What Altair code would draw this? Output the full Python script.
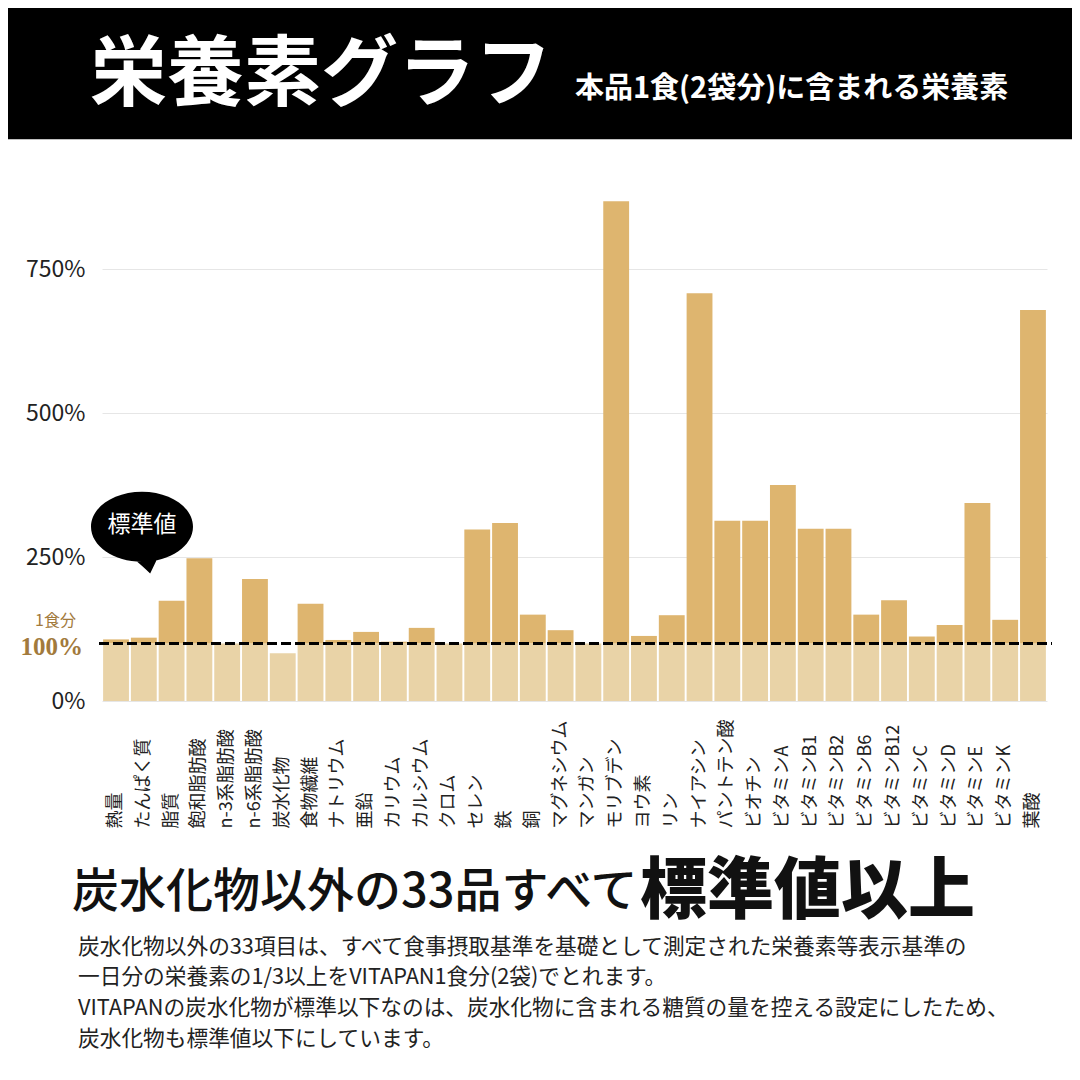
import altair as alt
import pandas as pd

# ---- data ----
nutrients = ["熱量", "たんぱく質", "脂質", "飽和脂肪酸", "n-3系脂肪酸", "n-6系脂肪酸",
             "炭水化物", "食物繊維", "ナトリウム", "亜鉛", "カリウム", "カルシウム", "クロム",
             "セレン", "鉄", "銅", "マグネシウム", "マンガン", "モリブデン", "ヨウ素", "リン",
             "ナイアシン", "パントテン酸", "ビオチン", "ビタミンA", "ビタミンB1", "ビタミンB2",
             "ビタミンB6", "ビタミンB12", "ビタミンC", "ビタミンD", "ビタミンE", "ビタミンK", "葉酸"]
percent = [107, 110, 174, 248, 100, 212, 83, 169, 106, 120, 103, 127, 100,
           298, 309, 150, 123, 100, 868, 113, 149, 708, 313, 313, 375, 299, 299,
           150, 175, 112, 132, 344, 141, 679]
tick_values = [0, 250, 500, 750]
reference_pct = 100

title_text = "栄養素グラフ"
subtitle_text = "本品1食(2袋分)に含まれる栄養素"
bubble_text = "標準値"
ref_small = "1食分"
ref_big = "100%"
headline_a = "炭水化物以外の33品すべて"
headline_b = "標準値以上"
body_lines = [
    "炭水化物以外の33項目は、すべて食事摂取基準を基礎として測定された栄養素等表示基準の",
    "一日分の栄養素の1/3以上をVITAPAN1食分(2袋)でとれます。",
    "VITAPANの炭水化物が標準以下なのは、炭水化物に含まれる糖質の量を控える設定にしたため、",
    "炭水化物も標準値以下にしています。",
]

FONT = "Noto Sans CJK JP"
FONT_MEDIUM = "'Noto Sans CJK JP Medium', 'Noto Sans CJK JP'"
GOLD = "#deb56f"
LIGHT = "#e9d3a7"
LABEL_GOLD = "#a27a3c"

df = pd.DataFrame({"nutrient": nutrients, "pct": percent})
df["base"] = df["pct"].clip(upper=reference_pct)
df["ref"] = reference_pct

x_enc = alt.X("nutrient:N", sort=nutrients,
              scale=alt.Scale(paddingInner=0.07, paddingOuter=0.04),
              axis=alt.Axis(title=None, labelAngle=-90, labelAlign="left",
                            labelBaseline="middle", labelPadding=127, ticks=False,
                            tickSize=0, domain=False, labelFont=FONT, labelFontSize=18,
                            labelColor="#222222", labelOverlap=False, labelLimit=300))
y_scale = alt.Scale(domain=[0, 950], nice=False)

base_bars = alt.Chart(df).mark_bar(color=LIGHT).encode(
    x=x_enc,
    y=alt.Y("base:Q", scale=y_scale,
            axis=alt.Axis(title=None, values=tick_values, labelExpr="datum.value + '%'",
                          grid=True, gridColor="#e6e6e6", domain=False, ticks=False,
                          tickSize=0, labelPadding=17, labelFont=FONT, labelFontSize=23,
                          labelColor="#222222")),
)

top_bars = alt.Chart(df).transform_filter(f"datum.pct > {reference_pct}").mark_bar(color=GOLD).encode(
    x=alt.X("nutrient:N", sort=nutrients),
    y=alt.Y("pct:Q", title=None),
    y2="ref:Q",
)

ref_rule = alt.Chart(pd.DataFrame({"r": [reference_pct]})).mark_rule(
    color="black", strokeWidth=3, strokeDash=[10, 4]
).encode(y=alt.Y("r:Q", title=None), x=alt.value(-3), x2=alt.value(950))


def txt(s, x, y, size, weight="normal", color="#222222", font=FONT, align="left"):
    return alt.Chart(pd.DataFrame({"t": [s]})).mark_text(
        align=align, baseline="middle", fontSize=size, fontWeight=weight,
        color=color, font=font
    ).encode(text="t:N", x=alt.value(x), y=alt.value(y))


header = alt.Chart(pd.DataFrame({"a": [0]})).mark_rect(color="black").encode(
    x=alt.value(-94), x2=alt.value(970), y=alt.value(-146.3), y2=alt.value(-14.8))

ky = 0.5523 * 0.686
ellipse_path = (f"M -1 0 C -1 {-ky:.3f} -0.5523 -0.686 0 -0.686 "
                f"C 0.5523 -0.686 1 {-ky:.3f} 1 0 "
                f"C 1 {ky:.3f} 0.5523 0.686 0 0.686 "
                f"C -0.5523 0.686 -1 {ky:.3f} -1 0 Z "
                "M 0.36 0.5 L 0.16 0.92 Q 0.02 0.78 -0.2 0.6 Z")
bubble = alt.Chart(pd.DataFrame({"a": [0]})).mark_point(
    shape=ellipse_path, filled=True, fill="black", stroke=None, opacity=1, size=10404
).encode(x=alt.value(40), y=alt.value(372.7))

layers = [
    header,
    base_bars,
    top_bars,
    ref_rule,
    bubble,
    txt(bubble_text, 40, 370.5, 23, color="white", align="center"),
    txt(title_text, -12, -77.5, 77, weight="bold", color="white"),
    txt(subtitle_text, 473, -64.8, 29, weight="bold", color="white"),
    txt(ref_small, -26, 466.7, 16, color=LABEL_GOLD, align="right"),
    txt(ref_big, -19, 492.7, 25, weight="bold", color=LABEL_GOLD, font="Liberation Serif", align="right"),
    txt(headline_a, -30, 738.7, 47, weight="normal", color="#111111", font=FONT_MEDIUM),
    txt(headline_b, 538, 738.7, 67, weight=900, color="#111111"),
]
body_y = [792.7, 822.7, 853.7, 884.7]
for line, yy in zip(body_lines, body_y):
    layers.append(txt(line, -24, yy, 21.7, color="#222222"))

chart = alt.layer(*layers).properties(
    width=945, height=547,
    padding={"left": 94, "top": 146, "right": 25, "bottom": 371},
    autosize=alt.AutoSizeParams(type="none"),
    background="white",
).configure_view(stroke=None)

chart.save("out.html", embed_options={"renderer": "svg", "actions": False})
